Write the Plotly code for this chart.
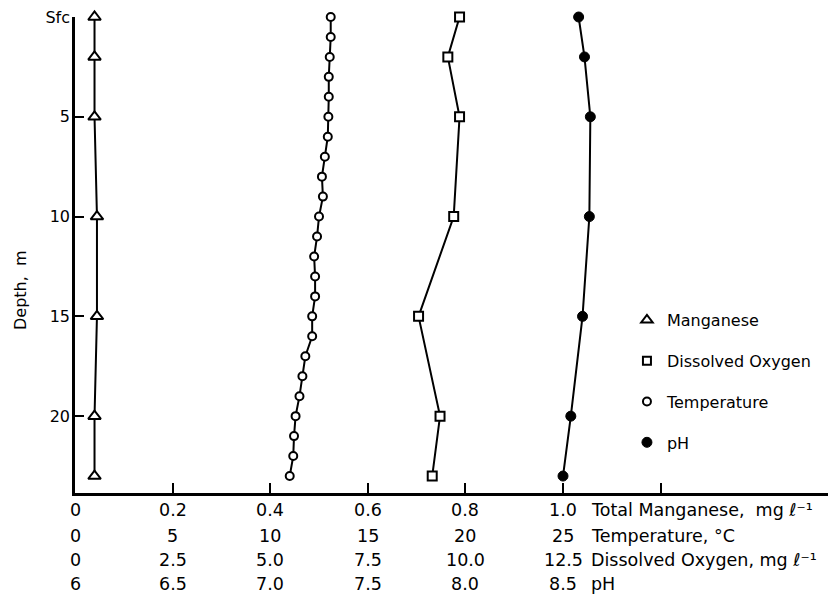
import plotly.graph_objects as go

# Depth profiles (m) and measured values
depth_mn = [0, 2, 5, 10, 15, 20, 23]
manganese = [0.04, 0.04, 0.04, 0.045, 0.045, 0.04, 0.04]          # mg/l

depth_temp = list(range(0, 24))
temperature = [13.1, 13.1, 13.05, 13.0, 13.0, 12.98, 12.95, 12.8, 12.65, 12.7,
               12.5, 12.4, 12.25, 12.3, 12.3, 12.15, 12.15, 11.8, 11.65, 11.5,
               11.3, 11.22, 11.18, 11.0]                               # deg C

depth_do = [0, 2, 5, 10, 15, 20, 23]
dissolved_oxygen = [9.85, 9.55, 9.85, 9.7, 8.8, 9.35, 9.15]           # mg/l

depth_ph = [0, 2, 5, 10, 15, 20, 23]
ph = [8.58, 8.61, 8.64, 8.635, 8.6, 8.54, 8.5]

# Stacked bottom scales
mn_ticks = [0, 0.2, 0.4, 0.6, 0.8, 1.0]
mn_labels = ["0", "0.2", "0.4", "0.6", "0.8", "1.0"]
temp_ticks = [0, 5, 10, 15, 20, 25]
temp_labels = ["0", "5", "10", "15", "20", "25"]
do_ticks = [0, 2.5, 5.0, 7.5, 10.0, 12.5]
do_labels = ["0", "2.5", "5.0", "7.5", "10.0", "12.5"]
ph_ticks = [6, 6.5, 7.0, 7.5, 8.0, 8.5]
ph_labels = ["6", "6.5", "7.0", "7.5", "8.0", "8.5"]
scale_titles = ["Total Manganese,  mg ℓ⁻¹", "Temperature, °C",
                "Dissolved Oxygen, mg ℓ⁻¹", "pH"]

depth_ticks = [0, 5, 10, 15, 20]
depth_labels = ["Sfc", "5", "10", "15", "20"]

FONT = "DejaVu Sans"
SPAN = 1.543  # width of the x axis in units of the 0-1.0 manganese scale

fig = go.Figure()

common = dict(mode="lines+markers", line=dict(color="black", width=2),
              cliponaxis=False, showlegend=False)

fig.add_trace(go.Scatter(x=manganese, y=depth_mn, xaxis="x", **common,
                         marker=dict(symbol="triangle-up", size=11, color="white",
                                     line=dict(color="black", width=2))))
fig.add_trace(go.Scatter(x=temperature, y=depth_temp, xaxis="x2", **common,
                         marker=dict(symbol="circle", size=8, color="white",
                                     line=dict(color="black", width=2))))
fig.add_trace(go.Scatter(x=dissolved_oxygen, y=depth_do, xaxis="x3", **common,
                         marker=dict(symbol="square", size=9, color="white",
                                     line=dict(color="black", width=2))))
fig.add_trace(go.Scatter(x=ph, y=depth_ph, xaxis="x4", **common,
                         marker=dict(symbol="circle", size=10, color="black",
                                     line=dict(color="black", width=1))))

# Legend entries (markers only)
legend_items = [
    ("Manganese", dict(symbol="triangle-up", size=10, color="white", line=dict(color="black", width=2))),
    ("Dissolved Oxygen", dict(symbol="square", size=8, color="white", line=dict(color="black", width=2))),
    ("Temperature", dict(symbol="circle", size=8, color="white", line=dict(color="black", width=2))),
    ("pH", dict(symbol="circle", size=10, color="black", line=dict(color="black", width=1))),
]
for name, mk in legend_items:
    fig.add_trace(go.Scatter(x=[None], y=[None], mode="markers", name=name,
                             marker=mk, legendgroup=name, showlegend=True))

# Bottom scale labels, one row per variable
rows = [
    ("x", mn_ticks, mn_labels, 510),
    ("x2", temp_ticks, temp_labels, 536),
    ("x3", do_ticks, do_labels, 560),
    ("x4", ph_ticks, ph_labels, 584),
]
PLOT_TOP, PLOT_BOTTOM = 17, 493
plot_h = PLOT_BOTTOM - PLOT_TOP
annotations = []
for (ref, vals, labels, ypx), title in zip(rows, scale_titles):
    yp = -(ypx - PLOT_BOTTOM) / plot_h
    for v, t in zip(vals, labels):
        annotations.append(dict(x=v, y=yp, xref=ref, yref="paper", text=t,
                                showarrow=False, xanchor="center", yanchor="middle",
                                font=dict(family=FONT, size=17.5, color="black")))
    annotations.append(dict(x=1.053, y=yp, xref="x", yref="paper", text=title,
                            showarrow=False, xanchor="left", yanchor="middle",
                            font=dict(family=FONT, size=17.5, color="black")))

annotations.append(dict(x=-0.073, y=(PLOT_BOTTOM - 290) / plot_h, xref="paper", yref="paper",
                        text="Depth,  m", textangle=-90, showarrow=False,
                        xanchor="center", yanchor="middle",
                        font=dict(family=FONT, size=16, color="black")))

hidden = dict(overlaying="x", visible=False, showgrid=False, zeroline=False)

fig.update_layout(
    width=828, height=604,
    margin=dict(l=75, r=0, t=PLOT_TOP, b=604 - PLOT_BOTTOM),
    paper_bgcolor="white", plot_bgcolor="white",
    font=dict(family=FONT, color="black"),
    xaxis=dict(range=[0, SPAN], showgrid=False, zeroline=False, showline=True,
               linecolor="black", linewidth=2.5, ticks="inside", ticklen=10,
               tickwidth=2, tickcolor="black",
               tickvals=[0.2, 0.4, 0.6, 0.8, 1.0, 1.2], showticklabels=False),
    xaxis2=dict(range=[0, 25 * SPAN], **hidden),
    xaxis3=dict(range=[0, 12.5 * SPAN], **hidden),
    xaxis4=dict(range=[6, 6 + 2.5 * SPAN], **hidden),
    yaxis=dict(range=[23.85, 0], showgrid=False, zeroline=False, showline=True,
               linecolor="black", linewidth=2.5, ticks="inside", ticklen=9,
               tickwidth=2, tickcolor="black", tickvals=depth_ticks,
               ticktext=depth_labels, ticklabelstandoff=-1,
               tickfont=dict(family=FONT, size=16, color="black")),
    legend=dict(x=0.733, y=(PLOT_BOTTOM - 303) / plot_h, xanchor="left", yanchor="top",
                font=dict(family=FONT, size=16, color="black"),
                tracegroupgap=17, bgcolor="rgba(0,0,0,0)", borderwidth=0),
    annotations=annotations,
)

fig.write_html("out.html")
